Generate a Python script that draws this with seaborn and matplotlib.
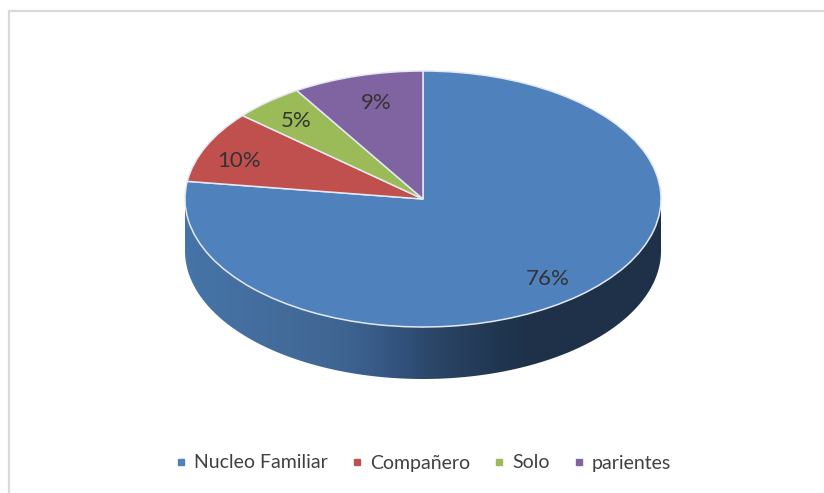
import numpy as np
import matplotlib
matplotlib.use("Agg")
import matplotlib.pyplot as plt
from matplotlib.colors import LinearSegmentedColormap
from matplotlib.lines import Line2D
from matplotlib.patches import Polygon
import seaborn as sns

# === Data ===
categories = ["Nucleo Familiar", "Compañero", "Solo", "parientes"]
slice_shares = [77.2, 9.1, 4.8, 8.9]  # as drawn, the 3D tilt skews the slices a bit
slice_labels = ["76%", "10%", "5%", "9%"]
slice_colors = ["#4F81BD", "#C0504D", "#9BBB59", "#8064A2"]

# === Pie geometry in pixels ===
W, H = 824, 493
CX, CY, RX, RY, DEPTH = 423, 199, 238, 128, 52

sns.set_theme(style="white")
plt.rcParams["font.family"] = ["Lato", "DejaVu Sans"]
TEXT = "#404040"


def px(x, y):
    return (x - CX) / RX, (CY - y) / RY


fig = plt.figure(figsize=(W / 100, H / 100), dpi=100)
ax = fig.add_axes([0, 0, 1, 1])

# === Top of the pie ===
ax.pie(
    slice_shares,
    colors=slice_colors,
    startangle=90,
    counterclock=False,
    wedgeprops={"edgecolor": "#E4E9F2", "linewidth": 1.1, "zorder": 3},
)
ax.set_aspect("auto")

# === Side wall, gradient clipped to the outline ===
wall_cmap = LinearSegmentedColormap.from_list(
    "wall",
    [(0.0, "#4674A8"), (0.24, "#426A98"), (0.35, "#3D6290"), (0.46, "#31507A"),
     (0.52, "#2B4667"), (0.66, "#203650"), (0.72, "#1E3149"), (1.0, "#1E3149")],
)
t = np.linspace(0, np.pi, 200)
d = DEPTH / RY
outline = np.column_stack([
    np.r_[np.cos(t), np.cos(t[::-1])],
    np.r_[np.sin(t) * 0.2, -np.sin(t[::-1]) - d],
])
wall = ax.imshow(
    np.linspace(0, 1, 400).reshape(1, -1),
    cmap=wall_cmap, extent=(-1, 1, -1 - d, 1), aspect="auto", zorder=1,
)
wall.set_clip_path(Polygon(outline, transform=ax.transData))

# === Data labels ===
label_px = [(548, 279), (239, 161), (296, 121), (376, 103)]
for text, (x, y) in zip(slice_labels, label_px):
    ax.text(*px(x, y), text, ha="center", va="center", fontsize=16, color="#333333", zorder=4)

# === Legend ===
handles = [
    Line2D([], [], linestyle="none", marker="s", markersize=4.5, color=c)
    for c in slice_colors
]
ax.legend(
    handles, categories, ncol=4, frameon=False, fontsize=14, labelcolor=TEXT,
    loc="center left", bbox_to_anchor=(175 / W, 1 - 463 / H),
    borderpad=0, borderaxespad=0,
    handlelength=0.6, handletextpad=0.37, columnspacing=1.2,
)

# === Chart area border (left and top only) ===
ax.plot(*zip(px(9, H), px(9, 11), px(W, 11)), color="#D9D9D9", linewidth=1.6, clip_on=False)
ax.set_xlim(-CX / RX, (W - CX) / RX)
ax.set_ylim((CY - H) / RY, CY / RY)
ax.axis("off")

fig.savefig("out.png", dpi=100, facecolor="white")
plt.close(fig)
